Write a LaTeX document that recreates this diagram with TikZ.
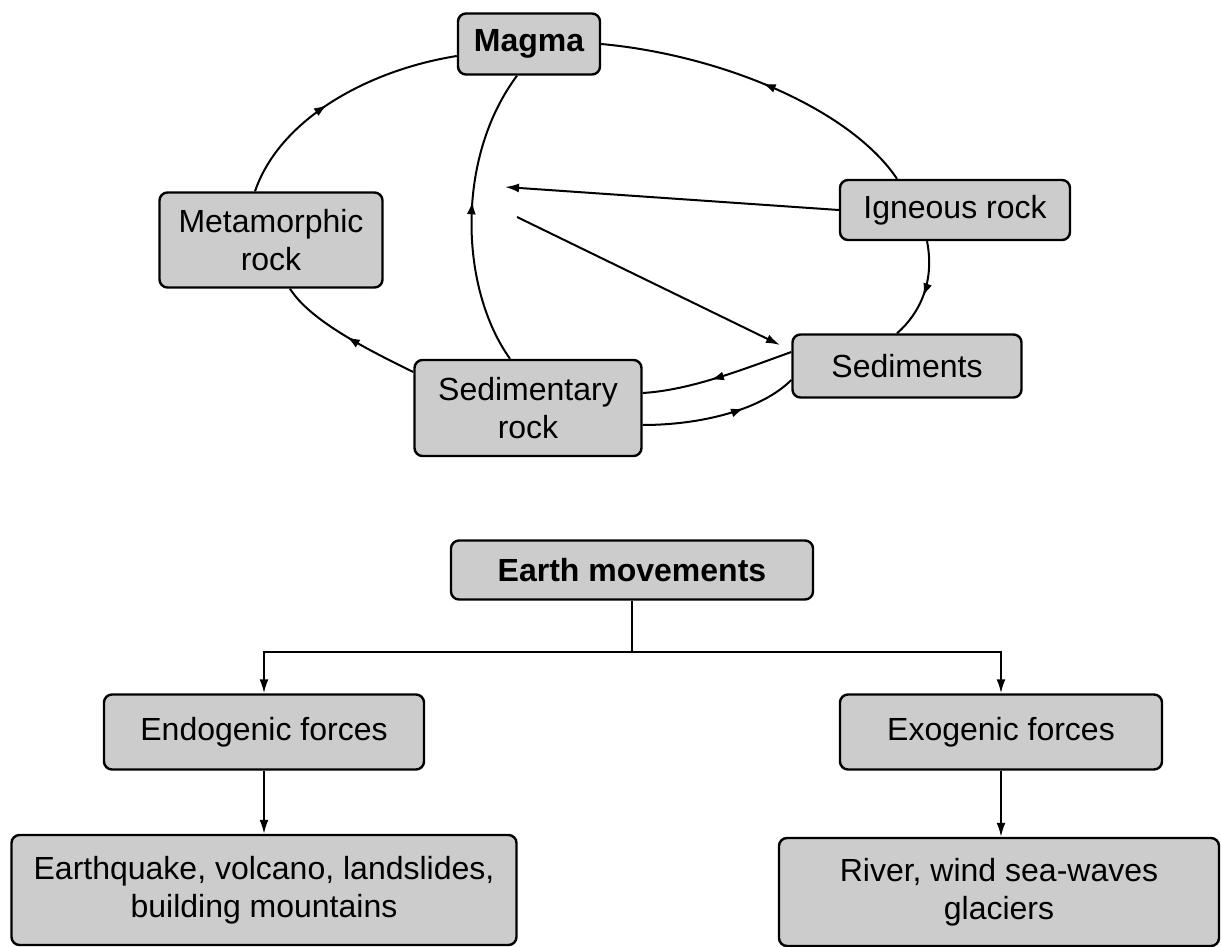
\documentclass[tikz,border=0pt]{standalone}
\usepackage{fontspec}
\setmainfont{Liberation Sans}
\usetikzlibrary{arrows.meta,decorations.markings}
\begin{document}
\begin{tikzpicture}[x=1pt,y=-1pt,
  box/.style={draw=black,line width=2.4pt,fill=gray!40,rounded corners=8pt,
    align=center,inner sep=0pt,font=\fontsize{32}{38}\selectfont},
  conn/.style={line width=2pt},
  midarrow/.style={postaction={decorate},decoration={markings,
    mark=at position #1 with {\arrow{Latex[length=13pt,width=9pt]}}}},
  tip/.style={-{Latex[length=14pt,width=9pt]}}]
\useasboundingbox (0,0) rectangle (1221,947);
% cycle
\node[box,minimum width=142pt,minimum height=61pt,font=\fontsize{32}{38}\selectfont\bfseries] (magma) at (529,44) {Magma};
\node[box,minimum width=223pt,minimum height=95pt] (meta) at (271,240) {Metamorphic\\rock};
\node[box,minimum width=230pt,minimum height=60pt] (ign) at (955,210) {Igneous rock};
\node[box,minimum width=229pt,minimum height=63pt] (sedm) at (907,366) {Sediments};
\node[box,minimum width=227pt,minimum height=96pt] (sedr) at (528,408) {Sedimentary\\rock};
\coordinate (f1) at (505,187);
\coordinate (f2) at (517,217);
\coordinate (f3) at (780,345);

\draw[conn,midarrow=0.45] ([xshift=-16pt]meta.north) .. controls +(25,-73) and +(-88,14) .. ([yshift=-12pt]magma.west);
\draw[conn,midarrow=0.5] ([xshift=-58pt]ign.north) .. controls +(-47,-70) and +(120,11) .. (magma.east);
\draw[conn,midarrow=0.55] ([xshift=-18pt]sedr.north) .. controls +(-50,-70) and +(-62,83) .. ([xshift=-12pt]magma.south);
\draw[conn,midarrow=0.55] ([xshift=-28pt]ign.south) .. controls +(8,40) and +(23,-20) .. ([xshift=-10pt]sedm.north);
\draw[conn,midarrow=0.55] ([yshift=14pt]sedm.west) .. controls +(-50,18) and +(48,-3) .. ([yshift=15pt]sedr.east);
\draw[conn,midarrow=0.65] ([yshift=-17pt]sedr.east) .. controls +(58,0) and +(-30,30) .. ([yshift=-14pt]sedm.west);
\draw[conn,midarrow=0.5] ([yshift=36pt]sedr.west) .. controls +(-45,-22) and +(20,32) .. ([xshift=19pt]meta.south);
\draw[conn,tip] (ign.west) -- (f1);
\draw[conn,tip] (f2) -- (f3);

% tree
\node[box,minimum width=362pt,minimum height=59pt,font=\fontsize{32}{38}\selectfont\bfseries] (em) at (632,570) {Earth movements};
\node[box,minimum width=320pt,minimum height=75pt] (endo) at (264,732) {Endogenic forces};
\node[box,minimum width=322pt,minimum height=75pt] (exo) at (1001,732) {Exogenic forces};
\node[box,minimum width=505pt,minimum height=110pt] (quake) at (264,890) {Earthquake, volcano, landslides,\\building mountains};
\node[box,minimum width=440pt,minimum height=108pt] (river) at (999,892) {River, wind sea-waves\\glaciers};
\coordinate (br) at (632,652);
\draw[conn] (em.south) -- (br);
\draw[conn,tip] (br) -| (endo.north);
\draw[conn,tip] (br) -| (exo.north);
\draw[conn,tip] (endo.south) -- (quake.north);
\draw[conn,tip] (exo.south) -- (exo.south |- river.north);
\end{tikzpicture}
\end{document}
